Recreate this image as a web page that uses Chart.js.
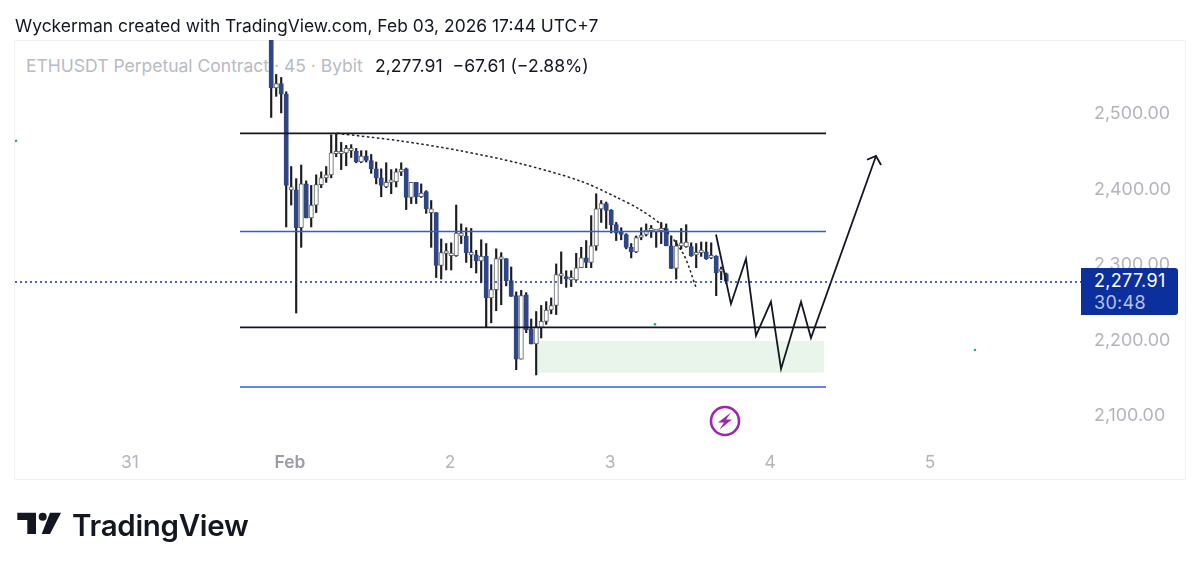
<!DOCTYPE html>
<html>
<head>
<meta charset="utf-8">
<title>ETHUSDT</title>
<script src="https://cdn.jsdelivr.net/npm/chart.js@4/dist/chart.umd.min.js"></script>
<style>
  html, body { margin: 0; padding: 0; background: #fff; }
  body { width: 1200px; height: 568px; position: relative; overflow: hidden; font-family: Inter, sans-serif; }
  canvas { position: absolute; left: 0; top: 0; }
  .txt { position: absolute; white-space: pre; }
  #title { left: 15px; top: 15px; font-size: 17.45px; line-height: 22px; color: #131722; }
  #legend { left: 26px; top: 55px; font-size: 17.5px; line-height: 22px; color: #b8bbc3; }
  #quote { left: 375px; top: 55px; font-size: 17.6px; line-height: 22px; color: #131722; }
  #lastBox { position: absolute; left: 1081px; top: 268px; width: 97px; height: 47px; background: #0c2f9e; border-radius: 0 3px 3px 0; color: #fff; font-size: 18px; line-height: 22px; letter-spacing: 0.3px; }
  #lastBox div { padding-left: 13px; }
  #lastBox .cd { color: #b7c3ea; }
  #lastBox .px { padding-top: 2px; }
  #logoText { left: 72px; top: 506px; font-size: 29.5px; line-height: 38px; font-weight: 600; color: #131722; letter-spacing: -0.3px; }
  svg { position: absolute; }
</style>
</head>
<body>
<div class="txt" id="legend">ETHUSDT Perpetual Contract · 45 · Bybit</div>
<canvas id="chart" width="1200" height="568"></canvas>
<div class="txt" id="title">Wyckerman created with TradingView.com, Feb 03, 2026 17:44 UTC+7</div>
<div class="txt" id="quote">2,277.91  −67.61 (−2.88%)</div>
<div id="lastBox"><div class="px">2,277.91</div><div class="cd">30:48</div></div>
<svg style="left:0;top:500px" width="70" height="44" viewBox="0 500 70 44">
  <path d="M17.3 512.7H36V534H27.3V520H17.3Z M50 512.7H61L50 534H41.7Z" fill="#131722"/>
  <circle cx="42.7" cy="516.7" r="4" fill="#131722"/>
</svg>
<div class="txt" id="logoText">TradingView</div>
<svg style="left:708px;top:404px" width="34" height="34" viewBox="0 0 34 34">
  <circle cx="17" cy="17" r="14" fill="none" stroke="#9c27b0" stroke-width="2.6"/>
  <path d="M23 8.5L10 18.5H16L11.5 25.5L24 15.5H18Z" fill="#9c27b0"/>
</svg>
<script>
// ETHUSDT 45m candles, first visible one is at startDay, 32 candles a day
const startDay = 0.8825;
const candlesPerDay = 32;

const opens = [2640,2534,2540,2526,2399,2399,2349,2407,2362,2379,2406,2415,2419,2447,2447,2448,2451,2450,2436,2444,2438,2427,2415,2403,2409,2410,2423,2427,2389,2409,2390,2397,2369,2369,2299,2315,2312,2312,2338,2338,2313,2313,2305,2311,2256,2267,2307,2308,2279,2259,2175,2260,2215,2195,2217,2225,2240,2246,2285,2284,2280,2280,2296,2309,2303,2325,2374,2381,2372,2353,2342,2340,2323,2317,2336,2340,2345,2344,2345,2348,2325,2295,2325,2324,2324,2313,2316,2317,2309,2311,2291,2288];
const highs = [2660,2552,2548,2529,2430,2414,2432,2411,2405,2419,2423,2430,2472,2474,2462,2458,2459,2454,2451,2451,2446,2436,2427,2435,2426,2427,2435,2428,2409,2409,2407,2398,2385,2369,2334,2328,2329,2379,2354,2349,2348,2319,2333,2328,2300,2321,2316,2308,2297,2264,2266,2263,2228,2238,2246,2251,2256,2301,2317,2292,2292,2315,2323,2332,2365,2394,2385,2383,2373,2356,2349,2341,2328,2338,2349,2354,2352,2345,2356,2354,2338,2332,2348,2353,2329,2328,2330,2330,2329,2312,2297,2289];
const lows = [2495,2523,2501,2350,2379,2236,2323,2362,2350,2369,2402,2409,2415,2443,2426,2431,2442,2435,2435,2436,2421,2407,2390,2402,2394,2403,2418,2373,2381,2381,2389,2368,2323,2283,2281,2293,2293,2311,2328,2303,2296,2289,2276,2217,2223,2239,2247,2272,2258,2161,2175,2210,2195,2154,2203,2221,2235,2234,2275,2270,2271,2279,2296,2296,2296,2319,2356,2348,2342,2332,2333,2321,2309,2316,2333,2338,2336,2323,2328,2325,2295,2281,2321,2323,2311,2296,2311,2307,2308,2259,2280,2275];
const closes = [2534,2540,2526,2405,2403,2349,2407,2362,2379,2406,2415,2419,2448,2450,2448,2454,2454,2436,2444,2438,2427,2415,2405,2409,2410,2423,2426,2389,2409,2390,2395,2374,2374,2299,2316,2316,2315,2342,2342,2316,2316,2305,2311,2256,2267,2308,2308,2279,2258,2175,2259,2214,2195,2217,2225,2240,2246,2287,2287,2281,2281,2296,2309,2303,2325,2374,2381,2372,2353,2342,2340,2323,2317,2336,2338,2346,2346,2345,2346,2325,2295,2325,2329,2330,2312,2315,2317,2308,2311,2289,2293,2278];

// drawings on the chart
const lineDays = [0.6875, 4.35];
const blackLevels = [2474, 2217];
const blueLevels = [2344, 2138];
const lastPriceLine = 2277;

const curveDays = [1.294,1.6875,2.0625,2.4375,2.8125,3.0438,3.1875,3.3125,3.4563,3.5375];
const curvePrices = [2474,2464,2451,2434,2411,2389,2373,2354,2315,2270];

const pathDays = [3.6625,3.756,3.85,3.9125,4.006,4.069,4.194,4.256,4.6625];
const pathPrices = [2340,2248,2308,2206,2251,2162,2251,2203,2444];
const headDays = [4.606,4.6625,4.694];
const headPrices = [2439,2444,2432];

const zoneDays = [2.55, 4.3375];
const zonePrices = [2199, 2157];

const dotDays = [-0.7125, 3.281, 5.281];
const dotPrices = [2464, 2221, 2187];

const xTickLabels = ['31', 'Feb', '2', '3', '4', '5'];
const yTicks = [2100, 2200, 2300, 2400, 2500];

const times = opens.map((_, i) => startDay + i / candlesPerDay);
const UP_EDGE = '#5c5f66', DOWN_FILL = '#2f4586';

function fmtPrice(v){
  return v.toLocaleString('en-US', { minimumFractionDigits: 2, maximumFractionDigits: 2 });
}

function pts(xs, ys){
  return xs.map((x, i) => ({ x, y: ys[i] }));
}

function lineSet(data, color, width, dash){
  return { type: 'scatter', showLine: true, data, borderColor: color, borderWidth: width,
    borderDash: dash || [], pointRadius: 0, fill: false, order: 0 };
}

const framePlugin = {
  id: 'frame',
  beforeDraw(chart){
    const c = chart.ctx;
    c.save();
    c.strokeStyle = '#f0f1f4';
    c.lineWidth = 1;
    c.strokeRect(14.5, 40.5, 1171, 439);
    c.restore();
  }
};

const zonePlugin = {
  id: 'zone',
  beforeDatasetsDraw(chart){
    const { x, y } = chart.scales;
    const c = chart.ctx;
    c.save();
    c.fillStyle = '#e9f4ea';
    c.fillRect(x.getPixelForValue(zoneDays[0]), y.getPixelForValue(zonePrices[0]),
      x.getPixelForValue(zoneDays[1]) - x.getPixelForValue(zoneDays[0]),
      y.getPixelForValue(zonePrices[1]) - y.getPixelForValue(zonePrices[0]));
    c.restore();
  }
};

new Chart(document.getElementById('chart').getContext('2d'), {
  type: 'bar',
  plugins: [framePlugin, zonePlugin],
  data: {
    datasets: [
      lineSet(pts(lineDays, [blackLevels[0], blackLevels[0]]), '#131722', 1.7),
      lineSet(pts(lineDays, [blackLevels[1], blackLevels[1]]), '#131722', 1.7),
      lineSet(pts(lineDays, [blueLevels[0], blueLevels[0]]), '#2b5fd9', 1.7),
      lineSet(pts(lineDays, [blueLevels[1], blueLevels[1]]), '#2b5fd9', 1.7),
      lineSet(pts([-0.71875, 5.95], [lastPriceLine, lastPriceLine]), '#1a3590', 1.6, [2, 3]),
      Object.assign(lineSet(pts(curveDays, curvePrices), '#222', 1.5, [2.5, 2.5]), { tension: 0.3 }),
      lineSet(pts(pathDays, pathPrices), '#131722', 1.8),
      lineSet(pts(headDays, headPrices), '#131722', 1.8),
      { type: 'scatter', data: pts(dotDays, dotPrices), pointRadius: 1.3, borderWidth: 0,
        pointBackgroundColor: '#22ab94', order: 0 },
      // candle bodies
      { data: times.map((t, i) => ({ x: t, y: [opens[i], closes[i]] })),
        barThickness: 4.4, minBarLength: 2.5, borderWidth: 1, borderSkipped: false,
        backgroundColor: opens.map((o, i) => closes[i] >= o ? '#ffffff' : DOWN_FILL),
        borderColor: opens.map((o, i) => closes[i] >= o ? UP_EDGE : DOWN_FILL),
        grouped: false, order: 1 },
      // wicks
      { data: times.map((t, i) => ({ x: t, y: [lows[i], highs[i]] })),
        barThickness: 1.5, backgroundColor: '#1b1c20', borderWidth: 0,
        grouped: false, order: 2 },
    ],
  },
  options: {
    responsive: false,
    animation: false,
    layout: { padding: { left: 15, top: 40, right: 14, bottom: 88 } },
    plugins: { legend: { display: false }, tooltip: { enabled: false } },
    scales: {
      x: {
        type: 'linear', offset: false, min: -0.71875, max: 5.96875,
        afterFit(scale){ scale.height = 35; },
        grid: { display: false, drawTicks: false },
        border: { display: false },
        ticks: {
          stepSize: 1, includeBounds: false, autoSkip: false, maxRotation: 0, padding: 7,
          callback: (v) => xTickLabels[v],
          color: (ctx) => ctx.tick && ctx.tick.value === 1 ? '#9a9da5' : '#b2b5bd',
          font: (ctx) => ({ family: 'Inter', size: 17.4, weight: ctx.tick && ctx.tick.value === 1 ? '600' : '400' }),
        },
      },
      y: {
        position: 'right', min: 2061.2, max: 2597.6,
        afterFit(scale){ scale.width = 101; },
        grid: { display: false, drawTicks: false },
        border: { display: false },
        afterBuildTicks(scale){ scale.ticks = yTicks.map((value) => ({ value })); },
        ticks: {
          padding: 9,
          callback: (v) => fmtPrice(v),
          color: '#b2b5bd',
          font: { family: 'Inter', size: 17.9 },
        },
      },
    },
  },
});
</script>
</body>
</html>
